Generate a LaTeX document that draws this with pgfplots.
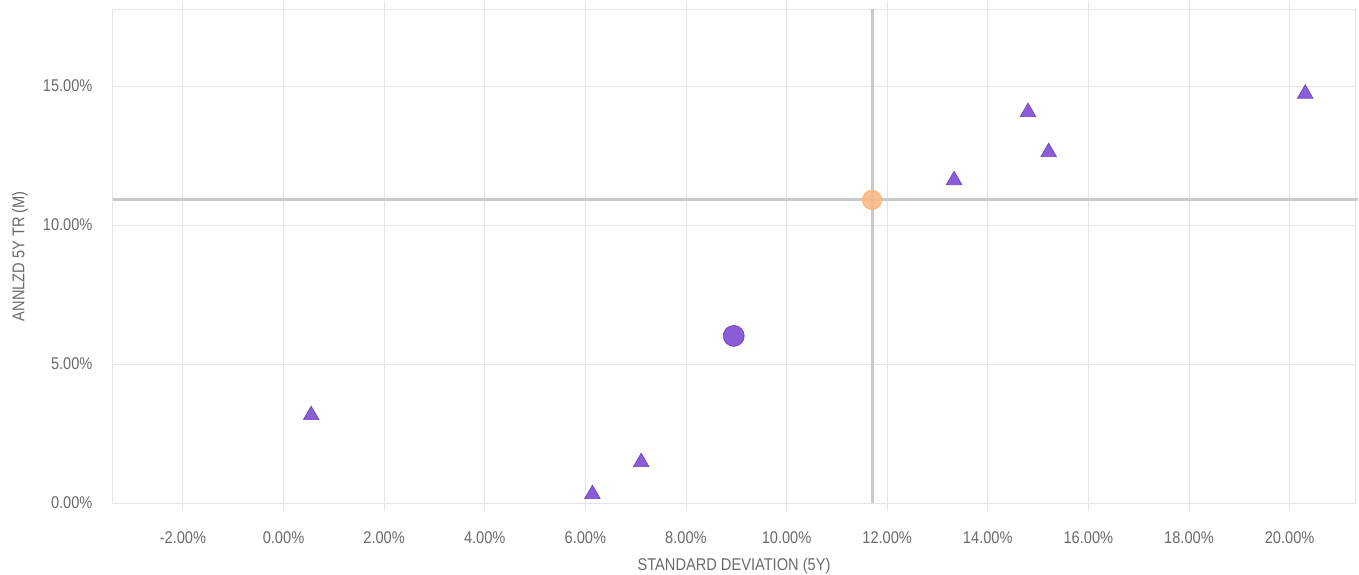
\documentclass[border=0pt]{standalone}
\usepackage{fontspec}
\setmainfont{Liberation Sans}[FakeStretch=0.86]
\usepackage{pgfplots}
\pgfplotsset{compat=1.18}
\definecolor{gridc}{HTML}{E4E4EC}
\definecolor{crossc}{HTML}{CACACA}
\definecolor{purp}{HTML}{8A5CD8}
\definecolor{purpd}{HTML}{6A40B8}
\definecolor{orng}{HTML}{FBB886}
\definecolor{txt}{HTML}{6A6A6A}
\begin{document}
\begin{tikzpicture}
\begin{axis}[
  scale only axis,
  width=1242pt, height=493.5pt,
  xmin=-3.39, xmax=21.3,
  ymin=0, ymax=17.75,
  xtick={-2,0,...,20},
  ytick={0,5,10,15},
  xticklabels={-2.00\%,0.00\%,2.00\%,4.00\%,6.00\%,8.00\%,10.00\%,12.00\%,14.00\%,16.00\%,18.00\%,20.00\%},
  yticklabels={0.00\%,5.00\%,10.00\%,15.00\%},
  grid=major,
  grid style={gridc, line width=0.9pt},
  axis line style={gridc, line width=1pt},
  tick align=outside,
  x tick style={gridc, line width=0.9pt},
  major tick length=8pt,
  y tick style={draw=none},
  tick label style={font=\fontsize{17}{19}\selectfont, text=txt},
  xticklabel style={yshift=-17pt},
  yticklabel style={xshift=-9pt},
  xlabel={STANDARD DEVIATION (5Y)},
  ylabel={ANNLZD 5Y TR (M)},
  label style={font=\fontsize{17}{19}\selectfont, text=txt},
  xlabel style={at={([yshift=-63pt]axis description cs:0.5,0)}, anchor=center},
  ylabel style={at={([xshift=-93pt]axis description cs:0,0.5)}, anchor=center},
  clip=false,
]
\coordinate (ll) at (rel axis cs:0,0);
\coordinate (ur) at (rel axis cs:1,1);
% crosshair lines
\addplot[crossc, line width=3pt] coordinates {(11.70,0) (11.70,17.75)};
\addplot[crossc, line width=3pt] coordinates {(-3.39,10.9) (21.35,10.9)};
% orange benchmark
\addplot[only marks, mark=*, mark size=10pt, mark options={fill=orng, draw=orng, fill opacity=0.9}] coordinates {(11.70,10.9)};
% purple circle
\addplot[only marks, mark=*, mark size=10.5pt, mark options={fill=purp, draw=purpd, line width=0.6pt}] coordinates {(8.95,6.01)};
% triangles
\addplot[only marks, mark=triangle*, mark size=9pt, mark options={fill=purp, draw=purpd, line width=0.6pt}] coordinates {
(0.55,3.16)
(6.14,0.32)
(7.11,1.47)
(13.33,11.61)
(14.80,14.06)
(15.21,12.62)
(20.31,14.72)
};
\end{axis}
\pgfresetboundingbox
\path ([shift={(-113pt,-72pt)}]ll) rectangle ([shift={(4pt,9.5pt)}]ur);
\end{tikzpicture}
\end{document}
